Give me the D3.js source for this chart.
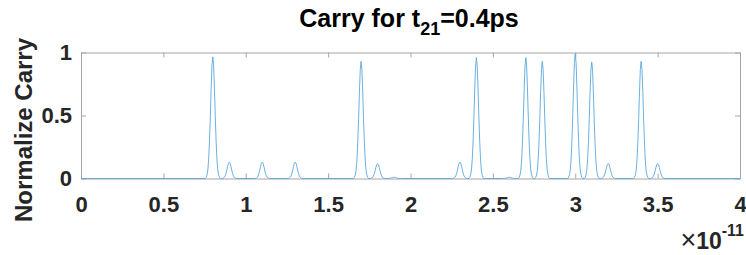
<!DOCTYPE html>
<html>
<head>
<meta charset="utf-8">
<script src="https://cdn.jsdelivr.net/npm/d3@7/dist/d3.min.js"></script>
<style>
  body { margin: 0; background: #fff; }
  svg { display: block; font-family: "Liberation Sans", Arial, sans-serif; }
  .tick text { font-size: 22px; font-weight: bold; fill: #262626; }
  .axis path, .axis line { stroke: #a6a6a6; }
</style>
</head>
<body>
<div id="chart"></div>
<script>
// peak positions (x10^-11 s) and normalized heights
var peakPos    = [0.8, 0.9, 1.1, 1.3, 1.7, 1.8, 1.9, 2.3, 2.4, 2.6, 2.7, 2.8, 3.0, 3.1, 3.2, 3.4, 3.5];
var peakHeight = [0.965, 0.13, 0.13, 0.13, 0.93, 0.12, 0.01, 0.13, 0.96, 0.01, 0.96, 0.93, 0.99, 0.925, 0.12, 0.93, 0.12];

// sampled pulse profile (offset from centre, relative level)
var pulseOffset = [-0.045, -0.04, -0.035, -0.03, -0.025, -0.02, -0.015, -0.01, -0.005, 0, 0.005, 0.01, 0.015, 0.02, 0.025, 0.03, 0.035, 0.04, 0.045];
var pulseLevel  = [0, 0.01, 0.03, 0.07, 0.16, 0.31, 0.51, 0.74, 0.93, 1, 0.93, 0.74, 0.51, 0.31, 0.16, 0.07, 0.03, 0.01, 0];

var xTicks = [0, 0.5, 1, 1.5, 2, 2.5, 3, 3.5, 4];
var yTicks = [0, 0.5, 1];

var W = 746, H = 255;
var margin = {top: 52.5, right: 6, bottom: 76.5, left: 81},
    width = W - margin.left - margin.right,
    height = H - margin.top - margin.bottom;

var svg = d3.select("#chart")
  .append("svg")
    .attr("width", W)
    .attr("height", H);

var g = svg.append("g")
    .attr("transform", "translate(" + margin.left + "," + margin.top + ")");

var x = d3.scaleLinear().domain([0, 4]).range([0, width]);
var y = d3.scaleLinear().domain([0, 1]).range([height, 0]);

var fmt = function(d){ return d3.format("")(d); };

g.append("g").attr("class", "axis")
  .attr("transform", "translate(0," + height + ")")
  .call(d3.axisBottom(x).tickValues(xTicks).tickFormat(fmt).tickSize(-5).tickSizeOuter(0).tickPadding(18));
g.append("g").attr("class", "axis")
  .call(d3.axisTop(x).tickValues(xTicks).tickFormat("").tickSize(-5).tickSizeOuter(0));
g.append("g").attr("class", "axis")
  .call(d3.axisLeft(y).tickValues(yTicks).tickFormat(fmt).tickSize(-5).tickSizeOuter(0).tickPadding(9));
g.append("g").attr("class", "axis")
  .attr("transform", "translate(" + width + ",0)")
  .call(d3.axisRight(y).tickValues(yTicks).tickFormat("").tickSize(-5).tickSizeOuter(0));

// build the trace from the peaks
var pts = [[0, 0]];
peakPos.forEach(function(p, i){
  pulseOffset.forEach(function(o, j){
    pts.push([p + o, peakHeight[i] * pulseLevel[j]]);
  });
});
pts.push([4, 0]);
pts.sort(function(a, b){ return a[0] - b[0]; });

g.append("path")
  .datum(pts)
  .attr("fill", "none")
  .attr("stroke", "#5aa7db")
  .attr("stroke-width", 0.9)
  .attr("d", d3.line().x(function(d){ return x(d[0]); }).y(function(d){ return y(d[1]); }));

// title
var title = svg.append("text")
  .attr("x", 409).attr("y", 27)
  .attr("text-anchor", "middle")
  .style("font-size", "25px").style("font-weight", "bold").style("fill", "#000");
title.append("tspan").text("Carry for t");
title.append("tspan").attr("dy", 8).style("font-size", "18px").text("21");
title.append("tspan").attr("dy", -8).text("=0.4ps");

// y label
svg.append("text")
  .attr("transform", "translate(32,130) rotate(-90)")
  .attr("text-anchor", "middle")
  .style("font-size", "24px").style("font-weight", "bold").style("fill", "#262626")
  .text("Normalize Carry");

// exponent
var ex = svg.append("text")
  .attr("x", 744).attr("y", 249)
  .attr("text-anchor", "end")
  .style("font-size", "23px").style("font-weight", "bold").style("fill", "#262626");
ex.append("tspan").style("font-weight", "normal").style("font-size", "27px").text("\u00d7");
ex.append("tspan").text("10");
ex.append("tspan").attr("dy", -13).style("font-size", "16px").text("-11");
</script>
</body>
</html>
